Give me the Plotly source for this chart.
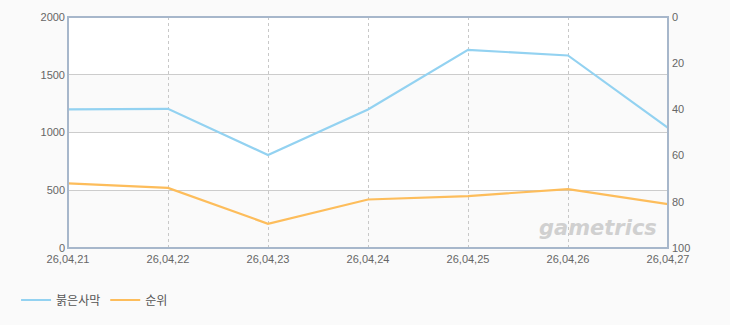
import plotly.graph_objects as go

dates = ["26,04,21", "26,04,22", "26,04,23", "26,04,24", "26,04,25", "26,04,26", "26,04,27"]
players = [1200, 1205, 805, 1200, 1715, 1667, 1040]
rank = [72, 74, 89.5, 79, 77.5, 74.5, 81]

left_ticks = [0, 500, 1000, 1500, 2000]
right_ticks = [0, 20, 40, 60, 80, 100]

BLUE = "#93d2f1"
ORANGE = "#fdbd5b"
AXIS = "#a7b7cb"
GRID = "#cccccc"
TXT = "#666666"

fig = go.Figure()
fig.add_trace(go.Scatter(x=dates, y=players, name="붉은사막", mode="lines",
                         line=dict(color=BLUE, width=2.2), yaxis="y"))
fig.add_trace(go.Scatter(x=dates, y=rank, name="순위", mode="lines",
                         line=dict(color=ORANGE, width=2.2), yaxis="y2"))

# alternating bands
for lo, hi in [(0, 500), (1000, 1500)]:
    fig.add_shape(type="rect", xref="paper", yref="y", x0=0, x1=1, y0=lo, y1=hi,
                  fillcolor="#fafafa", line_width=0, layer="below")

# plot border
fig.add_shape(type="rect", xref="paper", yref="paper", x0=0, x1=1, y0=0, y1=1,
              line=dict(color=AXIS, width=2), layer="above")

fig.add_annotation(text="<b><i>gametrics</i></b>", xref="paper", yref="paper",
                   x=0.985, y=0.085, xanchor="right", yanchor="middle", showarrow=False,
                   font=dict(family="DejaVu Sans", size=21, color="#d0d0d0"))

fig.update_layout(
    width=730, height=325,
    margin=dict(l=68, r=62, t=17, b=77),
    paper_bgcolor="#fafafa",
    plot_bgcolor="#ffffff",
    font=dict(family="Liberation Sans, Arial, sans-serif", size=11, color=TXT),
    xaxis=dict(type="category", range=[0, 6], showgrid=True, gridcolor="#c8c8c8",
               griddash="3px,3px", gridwidth=1, showline=False, zeroline=False,
               ticks="", tickfont=dict(size=11, color=TXT), ticklabelstandoff=3),
    yaxis=dict(range=[0, 2000], tickvals=left_ticks, showgrid=True, gridcolor=GRID,
               gridwidth=1, zeroline=False, showline=False, ticks="",
               tickfont=dict(size=11, color=TXT), ticklabelstandoff=2),
    yaxis2=dict(range=[100, 0], tickvals=right_ticks, overlaying="y", side="right",
                showgrid=False, zeroline=False, showline=False, ticks="",
                tickfont=dict(size=11, color=TXT), ticklabelstandoff=3),
    legend=dict(orientation="h", xref="container", yref="container",
                x=0.022, y=0.077, xanchor="left", yanchor="middle",
                font=dict(family="Noto Sans CJK KR", size=12, color="#555555"),
                itemwidth=30, tracegroupgap=0, bgcolor="rgba(0,0,0,0)"),
    showlegend=True,
)

fig.write_html("out.html")
